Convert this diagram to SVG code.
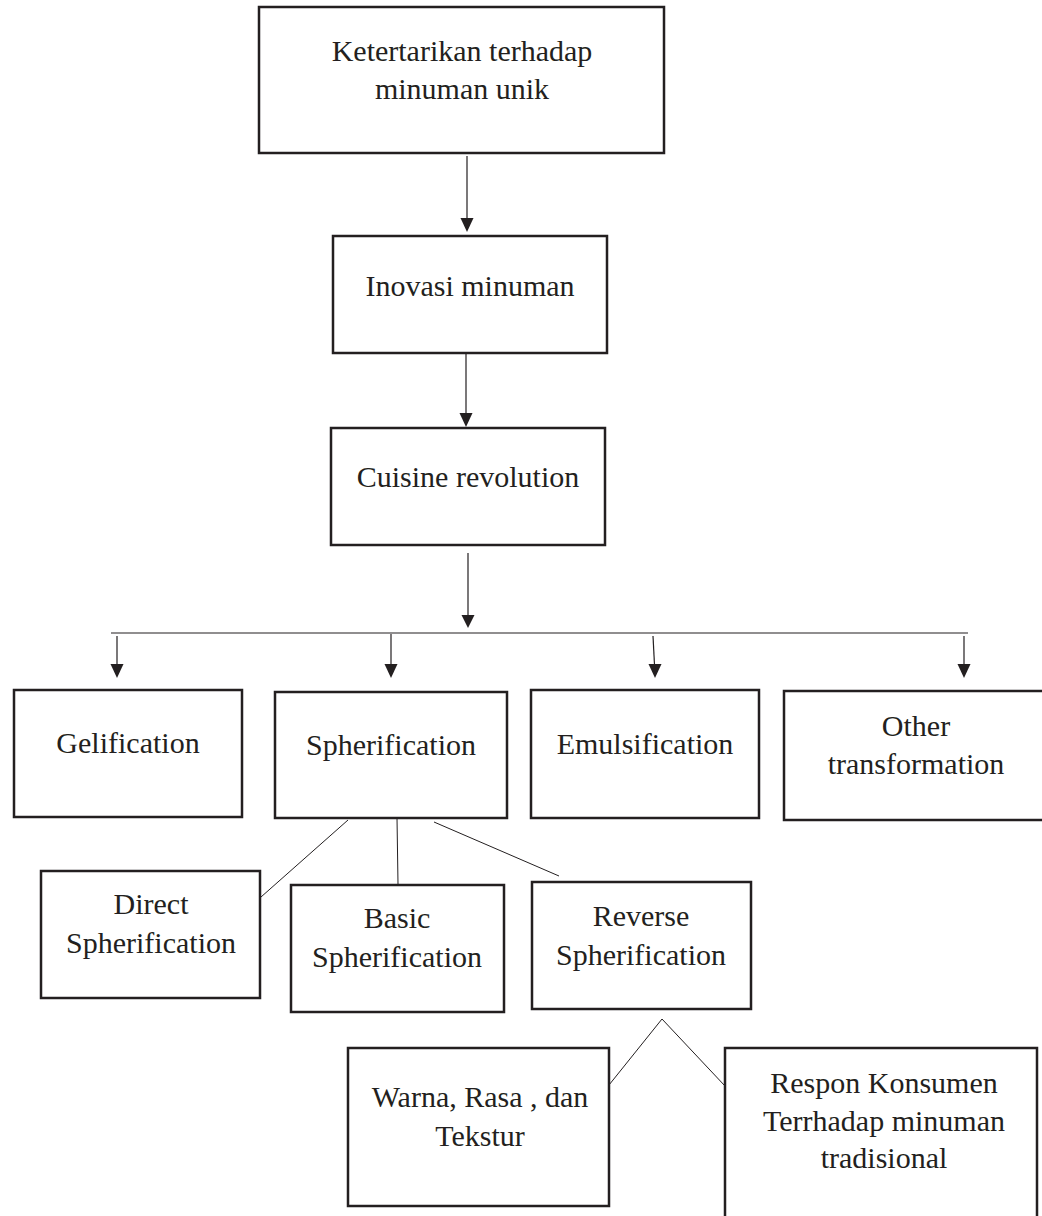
<svg xmlns="http://www.w3.org/2000/svg" width="1042" height="1216" viewBox="0 0 1042 1216">
<defs>
<style>
.box{fill:#fff;stroke:#231f20;stroke-width:2.5}
.lbl{font-family:"Liberation Serif","Times New Roman",serif;font-size:30px;fill:#231f20;text-anchor:middle}
.con{stroke:#231f20;stroke-width:1.2;fill:none}
.thin{stroke:#231f20;stroke-width:1;fill:none}
.ah{fill:#231f20}
</style>
</defs>
<rect width="1042" height="1216" fill="#fff"/>
<g id="connectors">
<line class="con" x1="467" y1="156" x2="467" y2="219"/>
<polygon class="ah" points="460.5,218 473.5,218 467,232"/>
<line class="con" x1="466" y1="351" x2="466" y2="414"/>
<polygon class="ah" points="459.5,413 472.5,413 466,427"/>
<line class="con" x1="468" y1="553" x2="468" y2="616"/>
<polygon class="ah" points="461.5,615 474.5,615 468,628"/>
<line class="con" x1="111" y1="633" x2="968" y2="633"/>
<line class="con" x1="117" y1="636" x2="117" y2="665"/>
<polygon class="ah" points="110.5,664 123.5,664 117,678"/>
<line class="con" x1="391" y1="634" x2="391" y2="665"/>
<polygon class="ah" points="384.5,664 397.5,664 391,678"/>
<line class="con" x1="653" y1="636" x2="654.5" y2="665"/>
<polygon class="ah" points="648.5,664 661.5,664 655,678"/>
<line class="con" x1="964" y1="636" x2="964" y2="665"/>
<polygon class="ah" points="957.5,664 970.5,664 964,678"/>
<line class="thin" x1="348" y1="820" x2="261" y2="897"/>
<line class="thin" x1="397" y1="818" x2="398" y2="884"/>
<line class="thin" x1="434" y1="822" x2="559" y2="876"/>
<polyline class="thin" points="609,1085 662,1019 725,1086"/>
</g>
<g id="n-ketertarikan">
<rect class="box" x="259" y="7" width="405" height="146"/>
<text class="lbl" x="462" y="61">Ketertarikan terhadap</text>
<text class="lbl" x="462" y="99">minuman unik</text>
</g>
<g id="n-inovasi">
<rect class="box" x="333" y="236" width="274" height="117"/>
<text class="lbl" x="470" y="296">Inovasi minuman</text>
</g>
<g id="n-cuisine">
<rect class="box" x="331" y="428" width="274" height="117"/>
<text class="lbl" x="468" y="487">Cuisine revolution</text>
</g>
<g id="n-gelification">
<rect class="box" x="14" y="690" width="228" height="127"/>
<text class="lbl" x="128" y="753">Gelification</text>
</g>
<g id="n-spherification">
<rect class="box" x="275" y="692" width="232" height="126"/>
<text class="lbl" x="391" y="755">Spherification</text>
</g>
<g id="n-emulsification">
<rect class="box" x="531" y="690" width="228" height="128"/>
<text class="lbl" x="645" y="754">Emulsification</text>
</g>
<g id="n-other">
<rect class="box" x="784" y="691" width="270" height="129"/>
<text class="lbl" x="916" y="736">Other</text>
<text class="lbl" x="916" y="774">transformation</text>
</g>
<g id="n-direct">
<rect class="box" x="41" y="871" width="219" height="127"/>
<text class="lbl" x="151" y="914">Direct</text>
<text class="lbl" x="151" y="953">Spherification</text>
</g>
<g id="n-basic">
<rect class="box" x="291" y="885" width="213" height="127"/>
<text class="lbl" x="397" y="928">Basic</text>
<text class="lbl" x="397" y="967">Spherification</text>
</g>
<g id="n-reverse">
<rect class="box" x="532" y="882" width="219" height="127"/>
<text class="lbl" x="641" y="926">Reverse</text>
<text class="lbl" x="641" y="965">Spherification</text>
</g>
<g id="n-warna">
<rect class="box" x="348" y="1048" width="261" height="158"/>
<text class="lbl" x="480" y="1107">Warna, Rasa , dan</text>
<text class="lbl" x="480" y="1146">Tekstur</text>
</g>
<g id="n-respon">
<rect class="box" x="725" y="1048" width="312" height="190"/>
<text class="lbl" x="884" y="1093">Respon Konsumen</text>
<text class="lbl" x="884" y="1131">Terrhadap minuman</text>
<text class="lbl" x="884" y="1168">tradisional</text>
</g>
</svg>
